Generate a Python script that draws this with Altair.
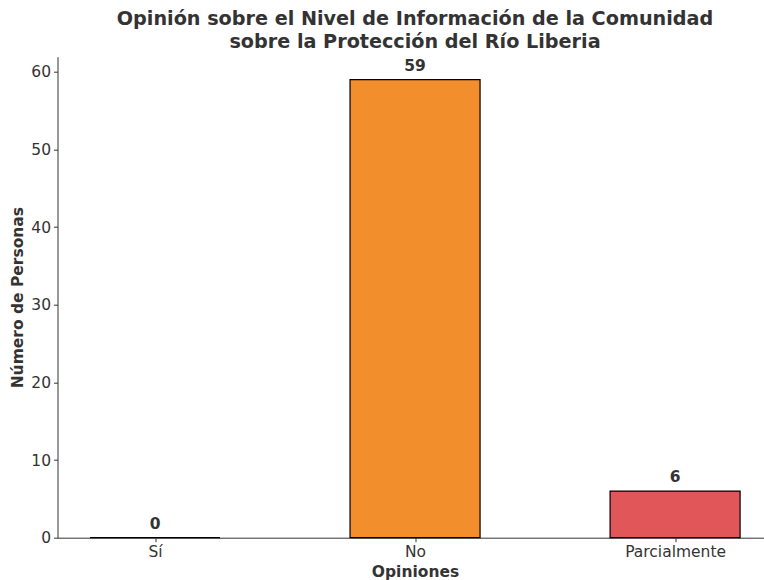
import altair as alt
import pandas as pd

categorias = ["Sí", "No", "Parcialmente"]
valores = [0, 59, 6]
colores = ["#4E79A7", "#F28E2B", "#E15759"]

df = pd.DataFrame({
    "idx": list(range(len(categorias))),
    "Opinion": categorias,
    "Personas": valores,
    "color": colores,
})

FONT = "DejaVu Sans"
TXT = "#333333"
label_expr = "datum.value == 0 ? 'Sí' : datum.value == 1 ? 'No' : datum.value == 2 ? 'Parcialmente' : ''"

base = alt.Chart(df).transform_calculate(
    x0="datum.idx - 0.25", x1="datum.idx + 0.25"
)

x_axis = alt.Axis(
    values=[0, 1, 2], labelExpr=label_expr, title="Opiniones",
    titleFont=FONT, titleFontSize=15.5, titleFontWeight="bold", titleColor=TXT,
    labelFont=FONT, labelFontSize=15.5, labelColor=TXT, labelPadding=3,
    tickSize=4, tickColor=TXT, domainColor=TXT, grid=False, titleX=357.5,
    titlePadding=4,
)
y_axis = alt.Axis(
    values=[0, 10, 20, 30, 40, 50, 60], title="Número de Personas",
    titleFont=FONT, titleFontSize=15.5, titleFontWeight="bold", titleColor=TXT,
    labelFont=FONT, labelFontSize=15.5, labelColor=TXT, labelPadding=3,
    tickSize=4, tickColor=TXT, domainColor=TXT, grid=False, titlePadding=5,
)

xscale = alt.Scale(domain=[-0.375, 2.34], nice=False, zero=False, padding=0)
yscale = alt.Scale(domain=[0, 61.95], nice=False, padding=0)

bars = base.mark_bar(stroke="black", strokeWidth=1.2).encode(
    x=alt.X("x0:Q", scale=xscale, axis=x_axis),
    x2="x1:Q",
    y=alt.Y("Personas:Q", scale=yscale, axis=y_axis),
    y2=alt.datum(0),
    color=alt.Color("color:N", scale=None),
)

labels = base.mark_text(
    baseline="bottom", dy=-6, font=FONT, fontSize=15.5, fontWeight="bold", color=TXT
).encode(
    x=alt.X("idx:Q", scale=xscale, axis=x_axis),
    y=alt.Y("Personas:Q", scale=yscale, axis=y_axis),
    text=alt.Text("Personas:Q"),
)

chart = alt.layer(bars, labels).properties(
    width=706, height=481,
    view=alt.ViewBackground(stroke="transparent", strokeWidth=0),
    title=alt.TitleParams(
        text=["Opinión sobre el Nivel de Información de la Comunidad",
              "sobre la Protección del Río Liberia"],
        font=FONT, fontSize=19.2, fontWeight="bold", color=TXT,
        anchor="middle", dx=4.5, offset=4, lineHeight=23,
    ),
    autosize=alt.AutoSizeParams(type="none"),
    padding={"left": 57.5, "top": 56.7, "right": 0, "bottom": 42},
).configure(
    background="white",
    view=alt.ViewConfig(stroke="transparent", strokeWidth=0),
)

chart.save("out.html", embed_options={"renderer": "svg", "actions": False})
